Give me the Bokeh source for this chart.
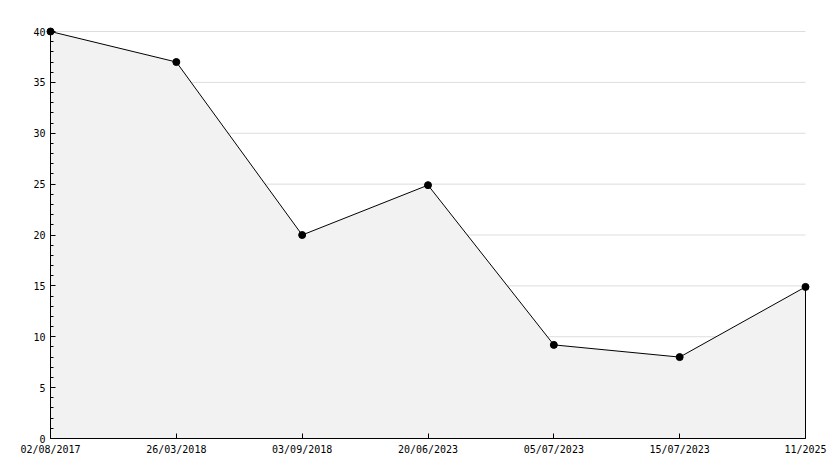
from bokeh.plotting import figure
from bokeh.models import Range1d, FixedTicker, LinearAxis
from bokeh.embed import file_html
from bokeh.resources import INLINE

dates = ["02/08/2017", "26/03/2018", "03/09/2018", "20/06/2023", "05/07/2023", "15/07/2023", "11/2025"]
values = [40, 37, 20, 24.9, 9.2, 8, 14.9]
y_ticks = [0, 5, 10, 15, 20, 25, 30, 35, 40]
y_minor = list(range(0, 41))

xs = list(range(len(dates)))
n = len(dates) - 1

# layout (pixels)
plot_w, plot_h = 755, 407
pad = 5
xscale = plot_w / n
yscale = plot_h / 40.0

p = figure(width=830, height=460, output_backend="svg", toolbar_location=None,
           x_range=Range1d(-pad / xscale, n + pad / xscale),
           y_range=Range1d(0, 40 + pad / yscale),
           min_border_left=50 - pad, min_border_right=830 - (50 - pad) - (plot_w + 2 * pad),
           min_border_top=31 - pad, min_border_bottom=22)
p.outline_line_color = None
p.background_fill_color = "white"
p.xgrid.grid_line_color = None
p.ygrid.grid_line_color = None

# grid lines spanning the data extent
p.segment(x0=[xs[0]] * len(y_ticks), x1=[xs[-1]] * len(y_ticks), y0=y_ticks, y1=y_ticks,
          line_color="#dddddd", line_width=1)

# area with outline
px = xs + [xs[-1], xs[0]]
py = values + [0, 0]
p.patch(px, py, fill_color="#f2f2f2", line_color="black", line_width=1)
p.scatter(xs, values, size=7, marker="circle", color="black")

font = "DejaVu Sans Mono"

# x axis (bottom, at y=0 which is the frame edge)
xa = p.xaxis[0]
xa.ticker = FixedTicker(ticks=xs)
xa.major_label_overrides = {i: d for i, d in enumerate(dates)}
xa.bounds = (xs[0], xs[-1])
xa.axis_line_color = "black"
xa.major_tick_line_color = "black"
xa.major_tick_out = 0
xa.major_tick_in = 5
xa.minor_tick_line_color = None
xa.major_label_text_font = font
xa.major_label_text_font_size = "10px"
xa.major_label_text_color = "black"
xa.major_label_standoff = 5

# y axis labels (left panel)
ya = p.yaxis[0]
ya.ticker = FixedTicker(ticks=y_ticks)
ya.axis_line_color = None
ya.major_tick_line_color = None
ya.minor_tick_line_color = None
ya.major_tick_out = 0
ya.major_tick_in = 0
ya.minor_tick_out = 0
ya.minor_tick_in = 0
ya.major_label_text_font = font
ya.major_label_text_font_size = "10px"
ya.major_label_text_color = "black"
ya.major_label_standoff = 0

# y axis line and ticks at x = 0
ya2 = LinearAxis(ticker=FixedTicker(ticks=y_ticks, minor_ticks=y_minor), fixed_location=0,
                 bounds=(0, 40), axis_line_color="black", major_tick_line_color="black",
                 minor_tick_line_color="black", major_tick_out=0, major_tick_in=5,
                 minor_tick_out=0, minor_tick_in=3, major_label_text_color=None,
                 major_label_text_font_size="1px", major_label_standoff=0)
p.add_layout(ya2, "left")

open("out.html", "w").write(file_html(p, INLINE))
